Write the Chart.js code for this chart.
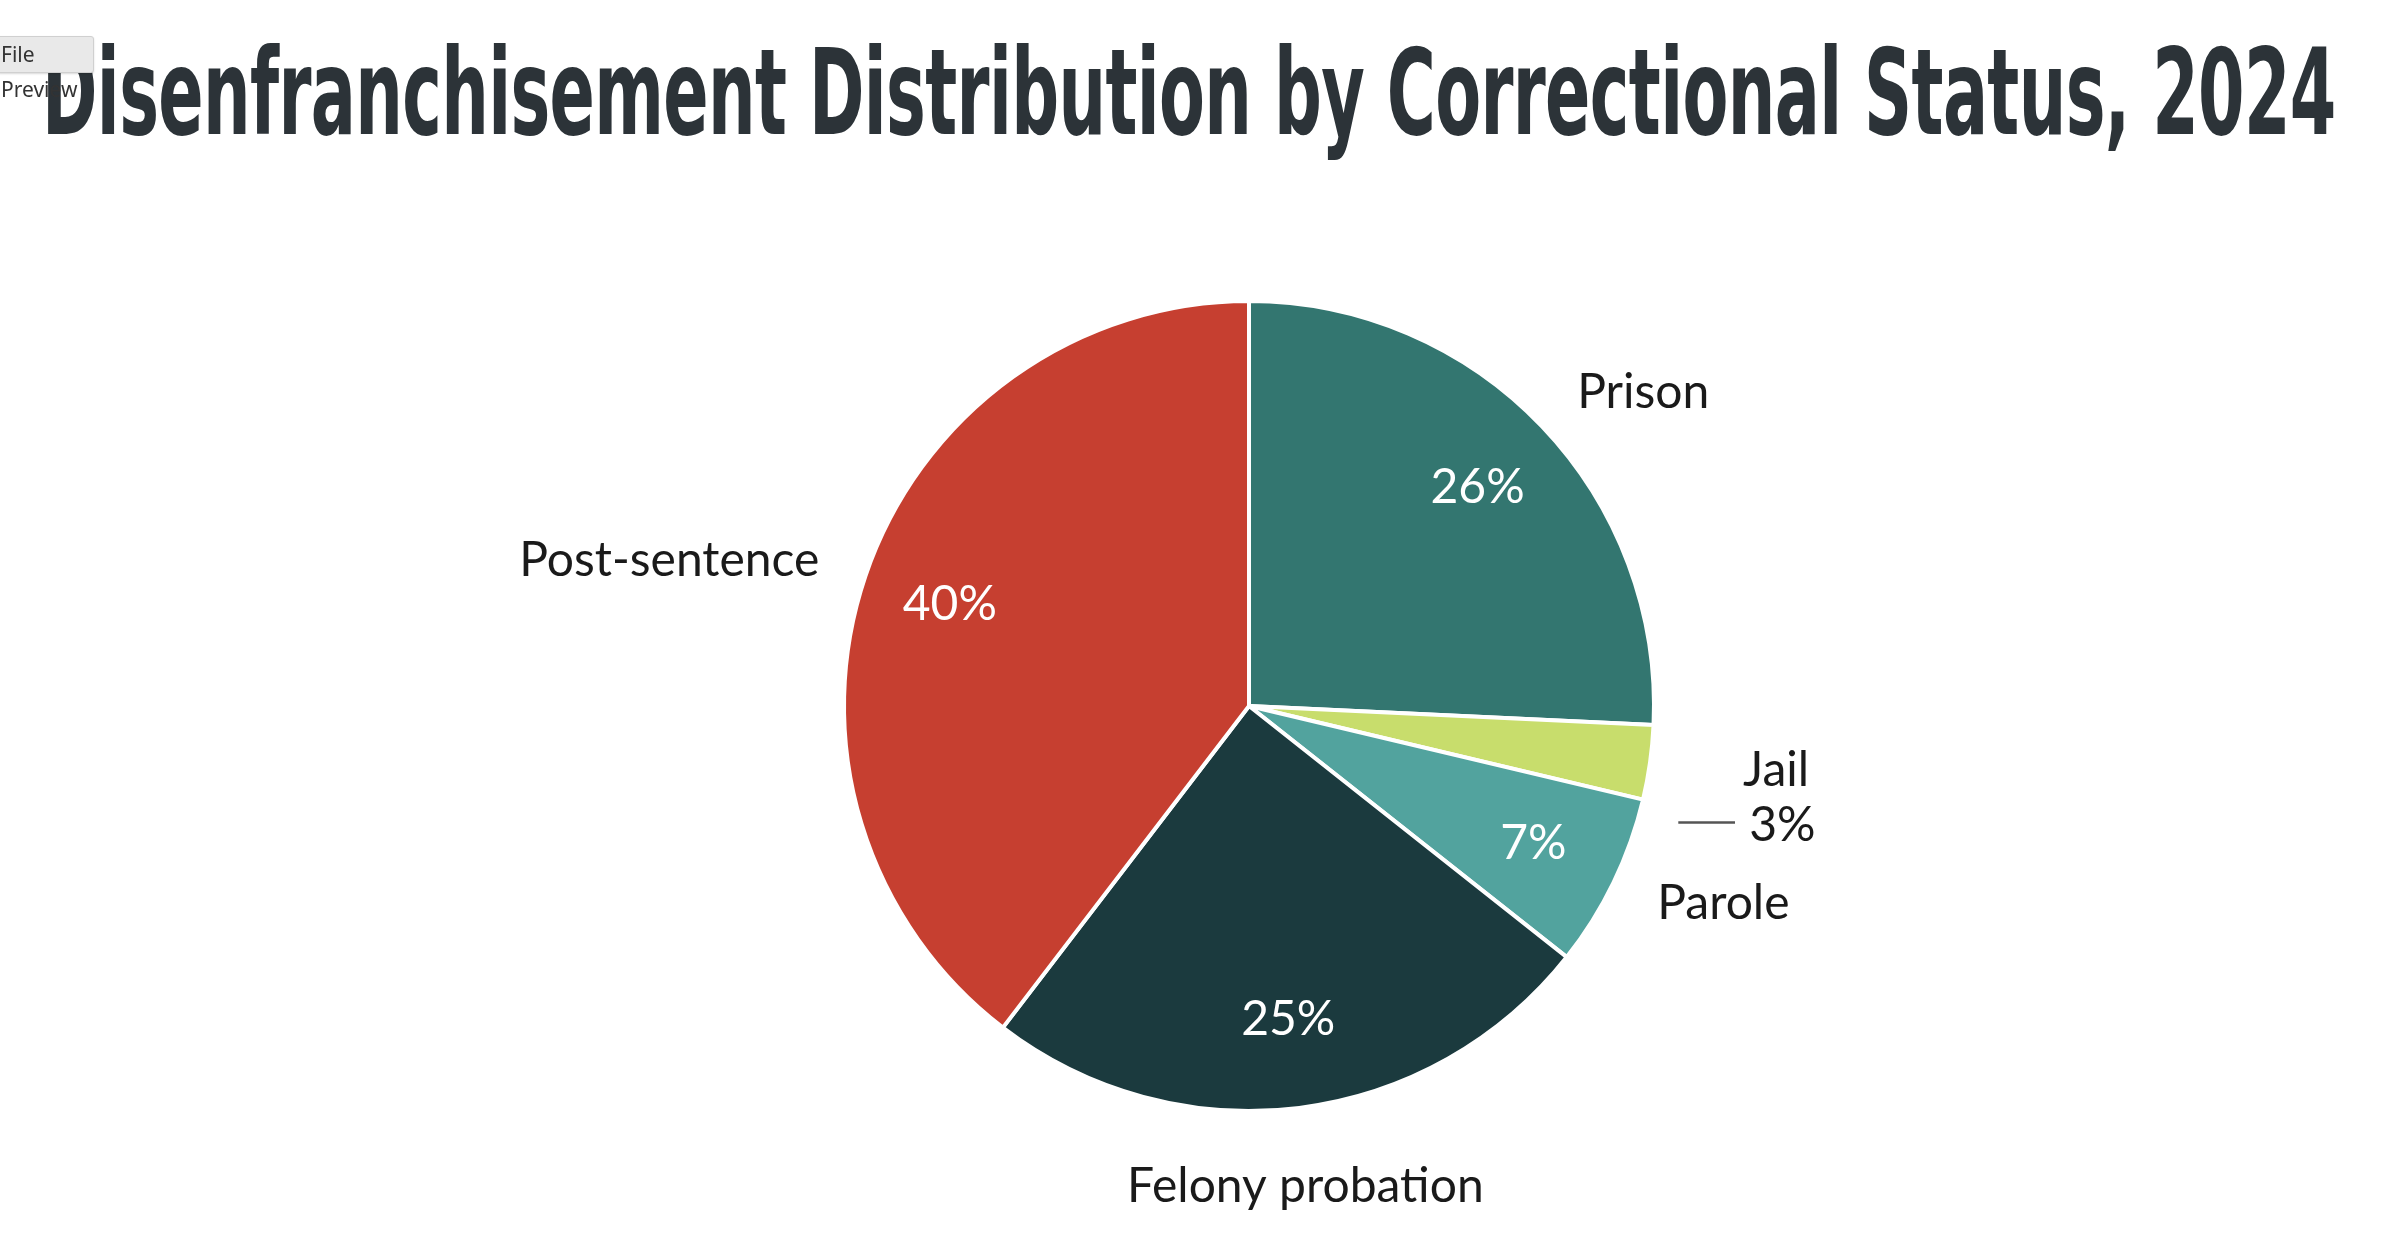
<!DOCTYPE html>
<html><head><meta charset="utf-8">
<script src="https://cdn.jsdelivr.net/npm/chart.js@4"></script>
<style>
html,body{margin:0;padding:0;background:#fff;width:2382px;height:1258px;overflow:hidden}
#wrap{position:absolute;left:0;top:0;width:2382px;height:1258px}
#title{position:absolute;left:42px;top:28px;margin:0;font-family:"Liberation Sans Narrow","DejaVu Sans Condensed",sans-serif;font-weight:bold;font-size:120px;line-height:130px;color:#2c3338;white-space:nowrap;transform-origin:0 0;letter-spacing:-1px}
#tab{position:absolute;left:-4px;top:36px;width:92px;height:35px;background:#e9e9e9;border:1px solid #d0d0d0;border-radius:3px;font-family:"Noto Sans",sans-serif;font-size:21px;line-height:35px;color:#333;padding-left:4px;box-shadow:0 1px 2px rgba(0,0,0,.15)}
</style></head>
<body>
<div id="wrap"><canvas id="c" width="2382" height="1258"></canvas></div>
<h1 id="title">Disenfranchisement Distribution by Correctional Status, 2024</h1>
<div id="tab">File Preview</div>
<script>
const categories = ["Prison", "Jail", "Parole", "Felony probation", "Post-sentence"];
const shares = [26, 3, 7, 25, 40];
const colors = ["#337670", "#c8dd6c", "#52a39e", "#1b3a3e", "#c63f30"];

const t = document.getElementById('title');
t.style.transform = 'scaleX(' + (2294 / t.scrollWidth) + ')';

const labelPlugin = {
  id: 'pieLabels',
  afterDatasetsDraw(chart) {
    const ctx = chart.ctx;
    const meta = chart.getDatasetMeta(0);
    ctx.save();
    meta.data.forEach((arc, i) => {
      const p = arc.getProps(['x','y','startAngle','endAngle','outerRadius'], true);
      const mid = (p.startAngle + p.endAngle) / 2;
      const cx = Math.cos(mid), cy = Math.sin(mid);
      const r = p.outerRadius;
      const v = shares[i] + '%';
      ctx.font = '48px Lato, "Noto Sans", sans-serif';
      ctx.textBaseline = 'middle';
      if (shares[i] < 5) {
        const yL = p.y + cy * r * 1.0 + 8;
        ctx.strokeStyle = '#555'; ctx.lineWidth = 2.5;
        ctx.beginPath();
        ctx.moveTo(p.x + r * 1.06, yL + 52);
        ctx.lineTo(p.x + r * 1.2, yL + 52);
        ctx.stroke();
        ctx.fillStyle = '#1a1a1a'; ctx.textAlign = 'left';
        ctx.fillText(categories[i], p.x + r * 1.22, yL);
        ctx.fillText(v, p.x + r * 1.235, yL + 55);
        return;
      }
      ctx.fillStyle = '#ffffff'; ctx.textAlign = 'center';
      ctx.fillText(v, p.x + cx * r * 0.78, p.y + cy * r * 0.78);
      ctx.fillStyle = '#1a1a1a';
      const lx = p.x + cx * r * 1.12, ly = p.y + cy * r * 1.12;
      if (Math.abs(cx) < 0.3) { ctx.textAlign = 'center'; ctx.fillText(categories[i], lx, ly + (cy > 0 ? 30 : -30)); }
      else { ctx.textAlign = cx > 0 ? 'left' : 'right'; ctx.fillText(categories[i], lx, ly); }
    });
    ctx.restore();
  }
};

new Chart(document.getElementById('c'), {
  type: 'pie',
  data: { labels: categories, datasets: [{ data: shares, backgroundColor: colors, borderColor: '#ffffff', borderWidth: 4 }] },
  options: {
    responsive: false, animation: false,
    layout: { padding: { top: 299, bottom: 145, left: 842, right: 726 } },
    plugins: { legend: { display: false }, tooltip: { enabled: false } }
  },
  plugins: [labelPlugin]
});
</script>
</body></html>
